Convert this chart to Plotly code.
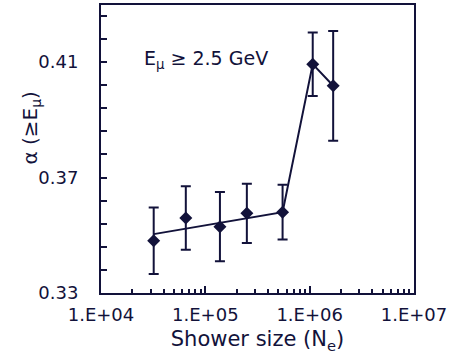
import plotly.graph_objects as go

# ---- data ----
shower_size = [3.2e4, 6.5e4, 1.38e5, 2.5e5, 5.5e5, 1.07e6, 1.68e6]
alpha = [0.3481, 0.3560, 0.3530, 0.3576, 0.3580, 0.4093, 0.4018]
alpha_err = [0.0115, 0.0110, 0.0120, 0.0103, 0.0095, 0.0110, 0.0190]

fit_x = [3.2e4, 5.5e5, 1.07e6, 1.68e6]
fit_y = [0.3504, 0.3580, 0.4093, 0.4018]

x_tickvals = [1e4, 1e5, 1e6, 1e7]
x_ticktext = ["1.E+04", "1.E+05", "1.E+06", "1.E+07"]
y_tickvals = [0.33, 0.37, 0.41]
y_ticktext = ["0.33", "0.37", "0.41"]

INK = "#12123a"
FONT = "DejaVu Sans"

x_minor = [m * 10 ** d for d in range(4, 7) for m in range(2, 10)]

fig = go.Figure()
fig.add_trace(go.Scatter(
    x=fit_x, y=fit_y, mode="lines",
    line=dict(color=INK, width=2), showlegend=False, hoverinfo="skip"))
fig.add_trace(go.Scatter(
    x=shower_size, y=alpha, mode="markers",
    marker=dict(symbol="diamond", size=10, color=INK),
    error_y=dict(type="data", array=alpha_err, visible=True,
                 color=INK, thickness=2, width=5),
    showlegend=False))

fig.update_layout(
    width=454, height=362,
    margin=dict(l=101, r=40, t=5, b=69),
    paper_bgcolor="white", plot_bgcolor="white",
    font=dict(family=FONT, color=INK, size=18),
    xaxis=dict(
        type="log", range=[4, 7],
        tickvals=x_tickvals, ticktext=x_ticktext,
        ticks="inside", ticklen=7, tickwidth=1.5, tickcolor=INK,
        minor=dict(tickvals=x_minor, ticks="inside", ticklen=4,
                   tickwidth=1.5, tickcolor=INK, showgrid=False),
        showgrid=False, zeroline=False,
        showline=True, linecolor=INK, linewidth=2, mirror=True,
        tickfont=dict(size=18, family=FONT, color=INK),
        ticklabelstandoff=4,
        title=dict(text="Shower size (N<sub>e</sub>)",
                   font=dict(size=21, family=FONT, color=INK), standoff=8),
        automargin=False,
    ),
    yaxis=dict(
        range=[0.33, 0.4298],
        tickvals=y_tickvals, ticktext=y_ticktext,
        ticks="inside", ticklen=6, tickwidth=1.5, tickcolor=INK,
        minor=dict(tick0=0.33, dtick=0.008, ticks="inside", ticklen=6,
                   tickwidth=1.5, tickcolor=INK, showgrid=False),
        showgrid=False, zeroline=False,
        showline=True, linecolor=INK, linewidth=2, mirror=True,
        tickfont=dict(size=18, family=FONT, color=INK),
        ticklabelstandoff=17,
        automargin=False,
    ),
    annotations=[
        dict(text="α (≥E<sub>μ</sub>)", textangle=-90,
             xref="paper", yref="paper", x=-0.225, y=0.573,
             xanchor="center", yanchor="middle", showarrow=False,
             font=dict(size=20, family=FONT, color=INK)),
        dict(text="E<sub>μ</sub> ≥ 2.5 GeV",
             xref="paper", yref="paper", x=0.131, y=0.8125,
             xanchor="left", yanchor="middle", showarrow=False,
             font=dict(size=19, family=FONT, color=INK)),
    ],
)

fig.write_html("out.html")
